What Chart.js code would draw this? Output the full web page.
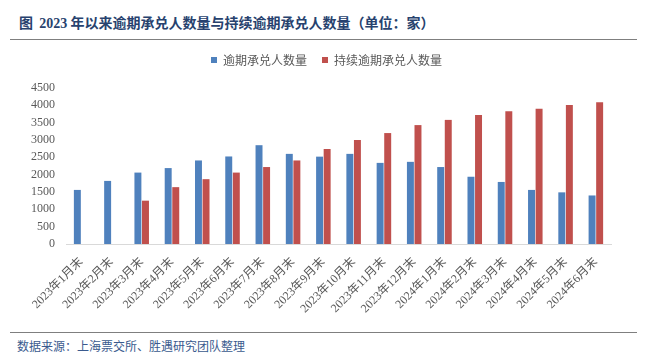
<!DOCTYPE html>
<html>
<head>
<meta charset="utf-8">
<script src="https://cdn.jsdelivr.net/npm/chart.js@4"></script>
<style>
body{margin:0;background:#fff;width:649px;height:364px;position:relative;overflow:hidden;font-family:"Noto Sans CJK SC",sans-serif;}
#title{position:absolute;left:19px;top:12px;font-size:14px;font-weight:bold;color:#27426e;white-space:nowrap;}
#title .num{font-family:"Liberation Serif",serif;}
.rule{position:absolute;left:10px;width:627px;height:0;border-top:1.5px solid #7f7f7f;}
#source{position:absolute;left:17px;top:337px;font-size:12px;color:#3a5a8e;white-space:nowrap;}
#wrap{position:absolute;left:0;top:44px;width:649px;height:284px;}
</style>
</head>
<body>
<div id="title">图&nbsp; <span class="num">2023</span> 年以来逾期承兑人数量与持续逾期承兑人数量（单位：家）</div>
<div class="rule" style="top:39px"></div>
<div id="wrap"><canvas id="chart"></canvas></div>
<div class="rule" style="top:332px"></div>
<div id="source">数据来源：上海票交所、胜遇研究团队整理</div>
<script>
const months = [
    "2023年1月末","2023年2月末","2023年3月末","2023年4月末","2023年5月末","2023年6月末",
    "2023年7月末","2023年8月末","2023年9月末","2023年10月末","2023年11月末","2023年12月末",
    "2024年1月末","2024年2月末","2024年3月末","2024年4月末","2024年5月末","2024年6月末"
];
const overdue = [1560,1820,2060,2190,2410,2525,2850,2600,2520,2600,2340,2370,2220,1940,1790,1560,1490,1400];
const persistent = [null,null,1250,1640,1870,2060,2220,2410,2740,3000,3200,3430,3580,3720,3830,3900,4010,4090];
const yMax = 4500;
const yStep = 500;

// taller legend block so the plot starts lower, and nudge the legend itself
const legendHeight = {
    id: "legendHeight",
    beforeInit(chart){
        const fit = chart.legend.fit;
        chart.legend.fit = function(){
            fit.bind(chart.legend)();
            this.height = 44;
        };
    },
    afterLayout(chart){
        const lg = chart.legend;
        lg.left += 21;
        lg.right += 21;
        lg.top -= 5;
    }
};

const ctx = document.getElementById("chart").getContext("2d");

new Chart(ctx, {
    type: "bar",
    data: {
        labels: months,
        datasets: [{
            label: "逾期承兑人数量",
            data: overdue,
            backgroundColor: "#4f81bd",
            categoryPercentage: 0.5,
            barPercentage: 0.92
        }, {
            label: "持续逾期承兑人数量",
            data: persistent,
            backgroundColor: "#c0504d",
            categoryPercentage: 0.5,
            barPercentage: 0.92
        }]
    },
    options: {
        responsive: true,
        maintainAspectRatio: false,
        animation: false,
        layout: {
            padding: {left: 0, right: 38, top: 0, bottom: 0}
        },
        plugins: {
            legend: {
                position: "top",
                labels: {
                    boxWidth: 6,
                    boxHeight: 6,
                    padding: 15,
                    color: "#595959",
                    font: {size: 12, family: "'Noto Sans CJK SC', sans-serif"}
                }
            },
            tooltip: {enabled: false}
        },
        scales: {
            x: {
                grid: {display: false, drawTicks: false},
                border: {color: "#d9d9d9", width: 1},
                ticks: {
                    color: "#595959",
                    minRotation: 45,
                    maxRotation: 45,
                    autoSkip: false,
                    padding: 11,
                    font: {size: 12, family: "'Liberation Serif', 'Noto Sans CJK SC', serif"}
                },
                afterFit(scale){
                    scale.height = 84;
                }
            },
            y: {
                min: 0,
                max: yMax,
                grid: {display: false, drawTicks: false},
                border: {display: false},
                ticks: {
                    stepSize: yStep,
                    autoSkip: false,
                    color: "#595959",
                    padding: 11,
                    font: {size: 12, family: "'Liberation Serif', serif"},
                    callback: function(value){
                        return String(value);
                    }
                },
                afterFit(scale){
                    scale.width = 66;
                }
            }
        }
    },
    plugins: [legendHeight]
});
</script>
</body>
</html>
